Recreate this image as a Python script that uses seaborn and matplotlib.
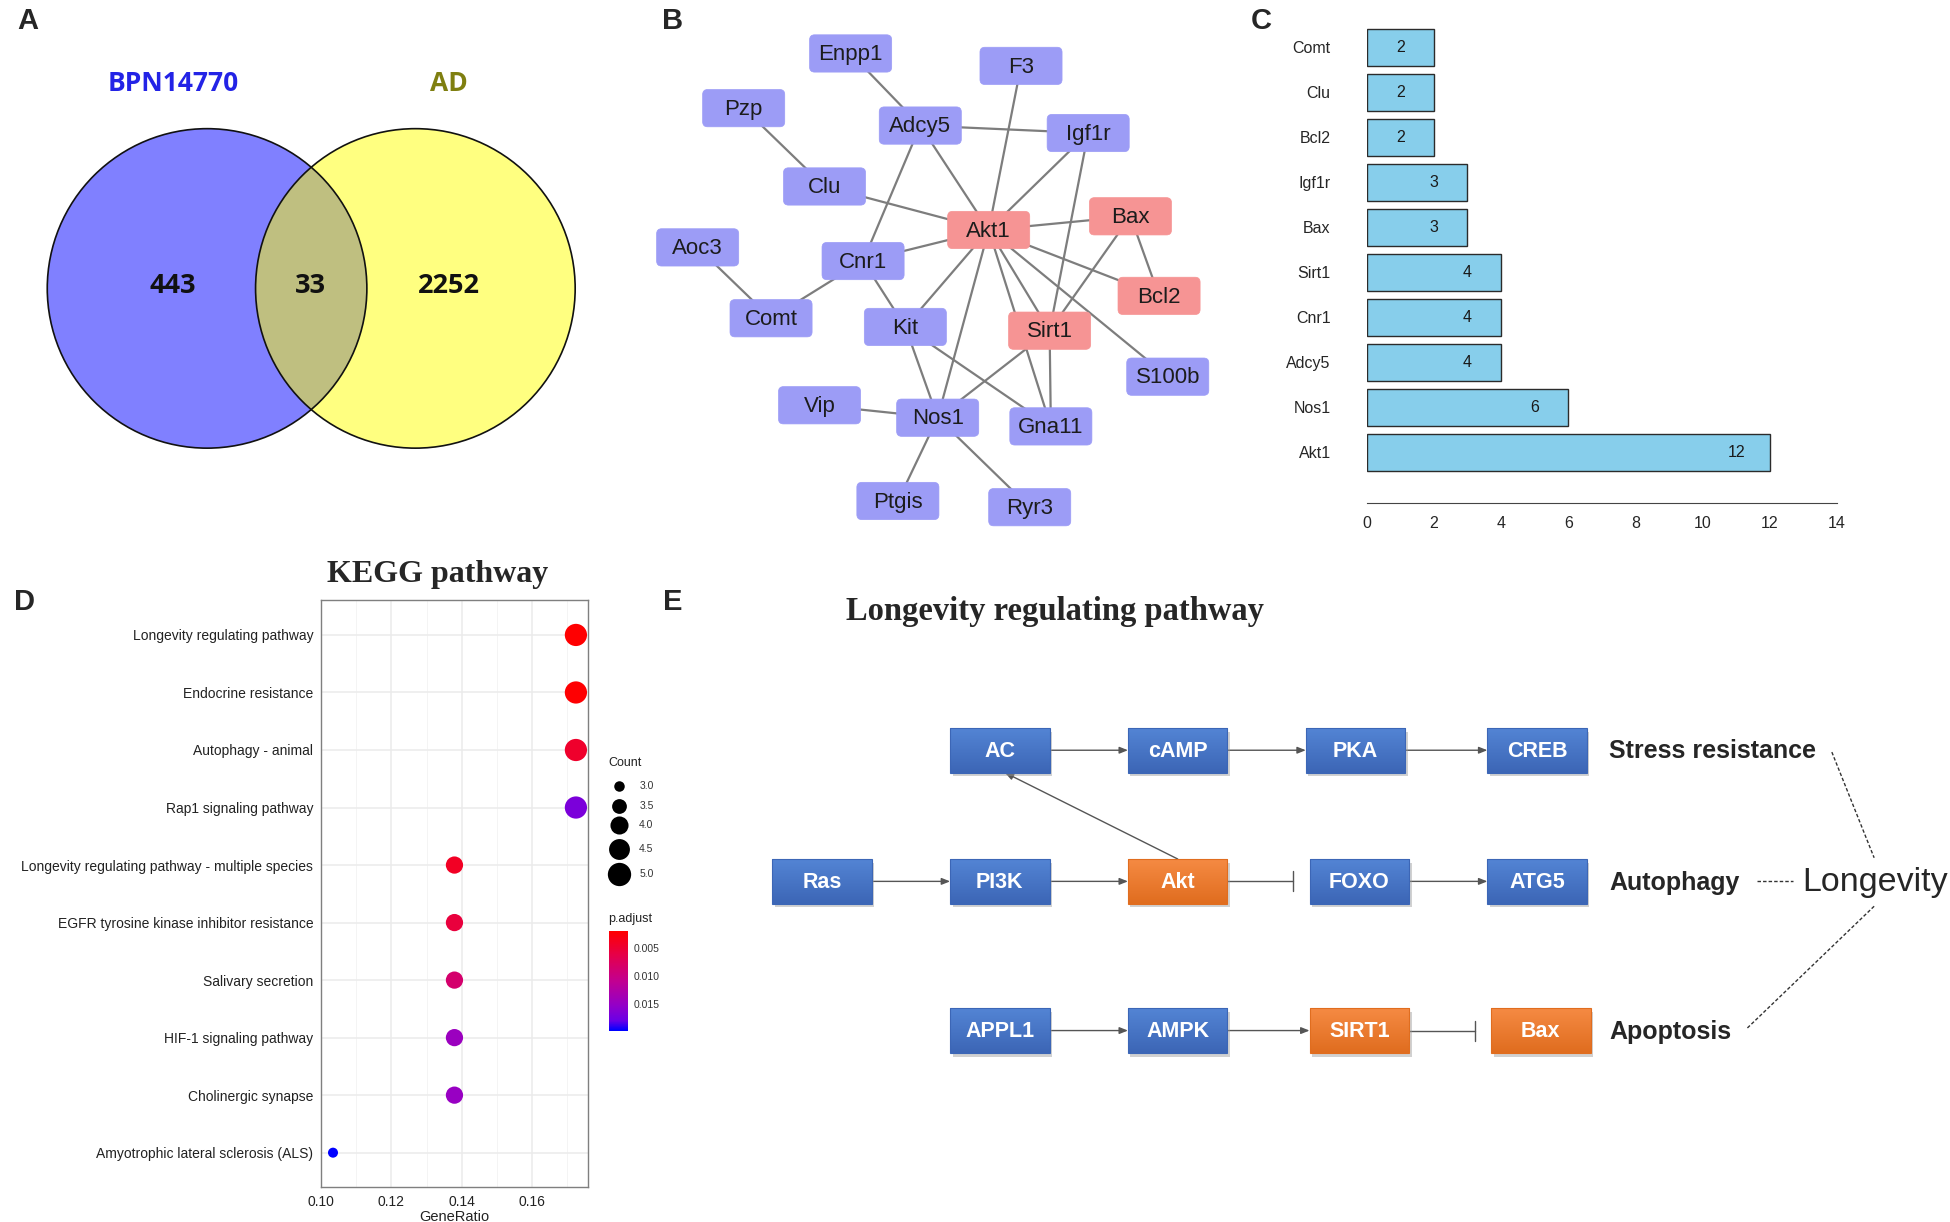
import numpy as np
import pandas as pd
import matplotlib
matplotlib.use("Agg")
import matplotlib.pyplot as plt
import seaborn as sns
from matplotlib.patches import Circle, FancyBboxPatch, Rectangle
from matplotlib.colors import LinearSegmentedColormap, Normalize
from matplotlib.cm import ScalarMappable
from matplotlib import font_manager

sns.set_style("white")
_fonts = {f.name for f in font_manager.fontManager.ttflist}


def pick(*names):
    for n in names:
        if n in _fonts:
            return n
    return "DejaVu Sans"


SANS = pick("Liberation Sans", "Arial")
NARROW = pick("Liberation Sans Narrow", "Liberation Sans")
SERIF = pick("Liberation Serif", "DejaVu Serif")
VENN_FONT = pick("Open Sans", "DejaVu Sans")
HAS_NARROW = NARROW == "Liberation Sans Narrow"
plt.rcParams["font.family"] = [SANS, "DejaVu Sans"]

# ── Data ─────────────────────────────────────────────────────────────────────
# A: Venn
venn_sets = ["BPN14770", "AD"]
venn_counts = [443, 33, 2252]          # BPN14770 only, shared, AD only

# B: PPI network
net_genes = ["Enpp1", "F3", "Pzp", "Adcy5", "Igf1r", "Clu", "Bax", "Akt1", "Aoc3",
             "Cnr1", "Bcl2", "Comt", "Kit", "Sirt1", "S100b", "Vip", "Nos1",
             "Gna11", "Ptgis", "Ryr3"]
net_hubs = ["Akt1", "Bax", "Bcl2", "Sirt1"]
net_edges = [("Enpp1", "Adcy5"), ("Pzp", "Clu"), ("Adcy5", "Igf1r"), ("Adcy5", "Akt1"),
             ("Adcy5", "Cnr1"), ("F3", "Akt1"), ("Igf1r", "Akt1"), ("Igf1r", "Sirt1"),
             ("Clu", "Akt1"), ("Akt1", "Bax"), ("Akt1", "Cnr1"), ("Akt1", "Bcl2"),
             ("Akt1", "Kit"), ("Akt1", "Nos1"), ("Akt1", "Sirt1"), ("Akt1", "Gna11"),
             ("Akt1", "S100b"), ("Bax", "Sirt1"), ("Bax", "Bcl2"), ("Aoc3", "Comt"),
             ("Comt", "Cnr1"), ("Cnr1", "Kit"), ("Kit", "Nos1"), ("Kit", "Gna11"),
             ("Sirt1", "Nos1"), ("Sirt1", "Gna11"), ("Vip", "Nos1"), ("Nos1", "Ptgis"),
             ("Nos1", "Ryr3")]

# C: degree of hub genes
deg_genes = ["Comt", "Clu", "Bcl2", "Igf1r", "Bax", "Sirt1", "Cnr1", "Adcy5", "Nos1", "Akt1"]
deg_values = [2, 2, 2, 3, 3, 4, 4, 4, 6, 12]
deg_ticks = [0, 2, 4, 6, 8, 10, 12, 14]

# D: KEGG enrichment
kegg_terms = ["Longevity regulating pathway", "Endocrine resistance", "Autophagy - animal",
              "Rap1 signaling pathway", "Longevity regulating pathway - multiple species",
              "EGFR tyrosine kinase inhibitor resistance", "Salivary secretion",
              "HIF-1 signaling pathway", "Cholinergic synapse",
              "Amyotrophic lateral sclerosis (ALS)"]
kegg_ratio = [0.1724, 0.1724, 0.1724, 0.1724, 0.1379, 0.1379, 0.1379, 0.1379, 0.1379, 0.1034]
kegg_count = [5, 5, 5, 5, 4, 4, 4, 4, 4, 3]
kegg_padj = [0.0020, 0.0021, 0.0045, 0.0168, 0.0040, 0.0055, 0.0085, 0.0145, 0.0148, 0.0197]
count_legend = [3.0, 3.5, 4.0, 4.5, 5.0]
padj_ticks = [0.005, 0.010, 0.015]
ratio_ticks = [0.10, 0.12, 0.14, 0.16]

# E: longevity pathway
e_rows = [["AC", "cAMP", "PKA", "CREB"],
          ["Ras", "PI3K", "Akt", "FOXO", "ATG5"],
          ["APPL1", "AMPK", "SIRT1", "Bax"]]
e_hits = ["Akt", "SIRT1", "Bax"]
e_links = [("AC", "cAMP", "act"), ("cAMP", "PKA", "act"), ("PKA", "CREB", "act"),
           ("Ras", "PI3K", "act"), ("PI3K", "Akt", "act"), ("Akt", "FOXO", "inh"),
           ("FOXO", "ATG5", "act"), ("APPL1", "AMPK", "act"), ("AMPK", "SIRT1", "act"),
           ("SIRT1", "Bax", "inh"), ("Akt", "AC", "act")]
e_outcomes = ["Stress resistance", "Autophagy", "Apoptosis"]

# ── Layout (canvas units, 1568 x 983) ────────────────────────────────────────
W, H = 1568, 983
net_pos = {"Enpp1": (684, 43), "F3": (821, 53), "Pzp": (598, 87), "Adcy5": (740, 101),
           "Igf1r": (875, 107), "Clu": (663, 150), "Bax": (909, 174), "Akt1": (795, 185),
           "Aoc3": (561, 199), "Cnr1": (694, 210), "Bcl2": (932, 238), "Comt": (620, 256),
           "Kit": (728, 263), "Sirt1": (844, 266), "S100b": (939, 303), "Vip": (659, 326),
           "Nos1": (754, 336), "Gna11": (845, 343), "Ptgis": (722, 403), "Ryr3": (828, 408)}
e_x = {"AC": 804, "cAMP": 947, "PKA": 1090, "CREB": 1236,
       "Ras": 661, "PI3K": 804, "Akt": 947, "FOXO": 1093, "ATG5": 1236,
       "APPL1": 804, "AMPK": 947, "SIRT1": 1093, "Bax": 1239}
e_row_y = [603.5, 709, 829]


def rect(x0, y0, x1, y1):
    return [x0 / W, 1 - y1 / H, (x1 - x0) / W, (y1 - y0) / H]


fig = plt.figure(figsize=(19.5, 12.22), dpi=100)
ov = fig.add_axes([0, 0, 1, 1])
ov.axis("off")

# panel letters
for letter, (lx, ly) in zip("ABCDE", [(22, 17), (541, 17), (1014, 17), (20, 484), (541, 484)]):
    ov.text(lx, ly, letter, fontsize=21, fontweight="bold", ha="center", va="center")

# ── A: Venn ──────────────────────────────────────────────────────────────────
cL, cR, rad = (166.5, 232), (334, 232), 128.5
ov.add_patch(Circle(cL, rad, facecolor="#8080ff", edgecolor="none", zorder=1))
right = Circle(cR, rad, facecolor="#ffff80", edgecolor="none", zorder=1)
ov.add_patch(right)
inter = Circle(cL, rad, facecolor="#bfbf80", edgecolor="none", zorder=1.5)
ov.add_patch(inter)
inter.set_clip_path(right)
for c in (cL, cR):
    ov.add_patch(Circle(c, rad, fill=False, edgecolor="#111111", lw=1.2, zorder=2))
ov.text(139, 67, venn_sets[0], color="#2323e6", fontsize=19, fontweight="bold",
        family=VENN_FONT, ha="center", va="center")
ov.text(361, 67, venn_sets[1], color="#7f7f10", fontsize=19, fontweight="bold",
        family=VENN_FONT, ha="center", va="center")
for x, n in zip([139, 250, 361], venn_counts):
    ov.text(x, 230, str(n), fontsize=19.5, fontweight="bold", family=VENN_FONT,
            ha="center", va="center", color="#111111", zorder=3)

# ── B: network ───────────────────────────────────────────────────────────────
for a, b in net_edges:
    (x1, y1), (x2, y2) = net_pos[a], net_pos[b]
    ov.plot([x1, x2], [y1, y2], color="#7d7d7d", lw=1.6, zorder=2)
for g in net_genes:
    x, y = net_pos[g]
    col = "#f69494" if g in net_hubs else "#9c9cf6"
    ov.add_patch(FancyBboxPatch((x - 30, y - 12), 60, 24,
                                boxstyle="round,pad=3,rounding_size=4",
                                facecolor=col, edgecolor=col, lw=0.5, zorder=3))
    ov.text(x, y + 1, g, fontsize=16, color="#1c1c1c", ha="center", va="center", zorder=4)

# ── C: degree barplot ────────────────────────────────────────────────────────
axC = fig.add_axes(rect(1099, 20, 1477, 382))
sns.barplot(x=deg_values, y=deg_genes, orient="h", color="#87ceeb", saturation=1,
            edgecolor="#2b2b2b", linewidth=1.0, width=0.83, ax=axC)
axC.set_xlim(0, 14)
axC.set_ylim(9.5, -0.5)
for i, v in enumerate(deg_values):
    axC.text(v - 1, i, str(v), ha="center", va="center", fontsize=11.5, color="#1a1a1a")
for s in ["top", "right", "left"]:
    axC.spines[s].set_visible(False)
axC.spines["bottom"].set_position(("outward", 20.5))
axC.spines["bottom"].set_bounds(0, 14)
axC.spines["bottom"].set_color("#444444")
axC.set_xticks(deg_ticks)
axC.tick_params(axis="x", length=5, width=1, color="#444444", labelsize=11.5, pad=4)
axC.tick_params(axis="y", length=0, labelsize=11.5, pad=26)
axC.set_xlabel("")
axC.set_ylabel("")
axC.patch.set_alpha(0)

# ── D: KEGG dot plot ─────────────────────────────────────────────────────────
padj_cmap = LinearSegmentedColormap.from_list(
    "redblue", [(0, "#ff0000"), (0.25, "#e4004c"), (0.5, "#c20090"),
                (0.75, "#9300c8"), (0.9, "#6a00e6"), (1, "#0000ff")])
padj_norm = Normalize(0.0019, 0.0197)
size_range = (52, 256)
kegg = pd.DataFrame({"term": kegg_terms, "GeneRatio": kegg_ratio,
                     "Count": kegg_count, "p.adjust": kegg_padj})

axD = fig.add_axes(rect(258, 483, 473, 955))
sns.scatterplot(data=kegg, x="GeneRatio", y="term", hue="p.adjust", size="Count",
                palette=padj_cmap, hue_norm=padj_norm, sizes=size_range, size_norm=(3, 5),
                linewidth=0, legend=False, ax=axD, zorder=3)
axD.set_xlim(0.09995, 0.1759)
axD.set_ylim(len(kegg_terms) - 0.4, -0.6)
axD.set_xticks(ratio_ticks)
axD.set_xticklabels([f"{t:.2f}" for t in ratio_ticks])
axD.set_xticks([0.11, 0.13, 0.15, 0.17], minor=True)
axD.set_axisbelow(True)
axD.grid(True, which="major", color="#ebebeb", lw=1.1)
axD.grid(True, which="minor", axis="x", color="#f2f2f2", lw=0.6)
axD.tick_params(which="minor", length=0)
axD.tick_params(axis="both", which="major", length=3.5, width=0.8, color="#333333",
                labelsize=10, labelcolor="#222222", pad=2)
for s in axD.spines.values():
    s.set_color("#7f7f7f")
    s.set_linewidth(1.0)
axD.set_ylabel("")
axD.set_xlabel("GeneRatio", fontsize=10.5, labelpad=1, color="#222222")
ov.text(352, 462, "KEGG pathway", family=SERIF, fontweight="bold", fontsize=23,
        ha="center", va="center")

# legend: Count
ov.text(489, 614, "Count", fontsize=9, ha="left", va="center", color="#222222")
for c, ly in zip(count_legend, [632, 648, 664, 683, 703]):
    s = size_range[0] + (c - 3) / 2 * (size_range[1] - size_range[0])
    ov.scatter([498], [ly], s=s * 1.1, color="black", linewidths=0)
    ov.text(514, ly, f"{c:.1f}", fontsize=7.5, ha="left", va="center", color="#333333")
ov.text(489, 739, "p.adjust", fontsize=9, ha="left", va="center", color="#222222")
cax = fig.add_axes(rect(490, 749, 505, 829))
cb = fig.colorbar(ScalarMappable(norm=padj_norm, cmap=padj_cmap), cax=cax)
cb.outline.set_visible(False)
cax.invert_yaxis()
cb.set_ticks(padj_ticks)
cb.set_ticklabels([f"{t:.3f}" for t in padj_ticks])
cax.tick_params(axis="y", direction="in", length=3, width=0.8, color="white",
                labelcolor="#333333", labelsize=7.5, pad=4, left=True, right=True)

# ── E: longevity regulating pathway ──────────────────────────────────────────
ov.text(848, 492, "Longevity regulating pathway", family=SERIF, fontweight="bold",
        fontsize=23.5, ha="center", va="center")
bw, bh = 80, 36
node_y = {}
for row_y, row in zip(e_row_y, e_rows):
    for name in row:
        node_y[name] = row_y
box_fs = 18 if HAS_NARROW else 15.5
for name, y in node_y.items():
    x = e_x[name]
    hit = name in e_hits
    light, dark = ("#f58a43", "#e06d1f") if hit else ("#5384d4", "#3c66b6")
    ov.add_patch(Rectangle((x - bw / 2 + 2, y - bh / 2 + 3), bw, bh, facecolor="#9a9a9a",
                           alpha=0.45, edgecolor="none", zorder=2))
    grad = LinearSegmentedColormap.from_list("g", [light, dark])
    im = ov.imshow(np.linspace(0, 1, 32).reshape(-1, 1), cmap=grad, aspect="auto",
                   extent=(x - bw / 2, x + bw / 2, y + bh / 2, y - bh / 2), zorder=3)
    frame = Rectangle((x - bw / 2, y - bh / 2), bw, bh, facecolor="none",
                      edgecolor=dark, lw=0.8, zorder=4)
    ov.add_patch(frame)
    im.set_clip_path(frame)
    ov.text(x, y + 1, name, color="white", fontsize=box_fs, fontweight="bold",
            family=NARROW, ha="center", va="center", zorder=5)

for src, dst, kind in e_links:
    sx, sy, tx, ty = e_x[src], node_y[src], e_x[dst], node_y[dst]
    if sy != ty:
        start, end = (sx, sy - bh / 2), (tx + 4, ty + bh / 2)
    else:
        start, end = (sx + bw / 2, sy), (tx - bw / 2, ty)
    if kind == "act":
        ov.annotate("", xy=end, xytext=start, zorder=1,
                    arrowprops=dict(arrowstyle="-|>,head_length=0.5,head_width=0.2",
                                    color="#555555", lw=1.0, shrinkA=0, shrinkB=0))
    else:
        bx = end[0] - 13
        ov.plot([start[0], bx], [sy, sy], color="#555555", lw=1.0, zorder=1)
        ov.plot([bx, bx], [sy - 8, sy + 8], color="#555555", lw=1.0, zorder=1)

for txt, y in zip(e_outcomes, e_row_y):
    ov.text(1294, y + 1, txt, fontsize=18, fontweight="bold", ha="left", va="center")
ov.text(1508, 710, "Longevity", fontsize=24.5, ha="center", va="center")
dash = dict(color="#333333", lw=1.0, ls=(0, (2.5, 1.5)))
ov.plot([1473, 1507], [605, 690], **dash)
ov.plot([1413, 1442], [709, 709], **dash)
ov.plot([1507, 1405], [729, 827], **dash)

ov.set_xlim(0, W)
ov.set_ylim(H, 0)

fig.savefig("out.png", dpi=100, facecolor="white")
